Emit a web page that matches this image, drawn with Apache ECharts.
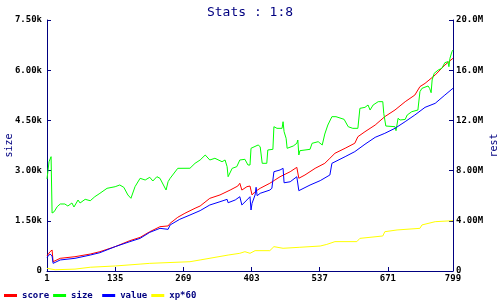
<!DOCTYPE html>
<html>
<head>
<meta charset="utf-8">
<script src="https://cdn.jsdelivr.net/npm/echarts@6/dist/echarts.min.js"></script>
<style>html,body{margin:0;padding:0;background:#fff}#c{width:500px;height:300px}</style>
</head>
<body>
<div id="c"></div>
<script>
// x ticks and axis tick labels
var xTicks = [1, 135, 269, 403, 537, 671, 799];
var leftTickLabels = ['0', '1.50k', '3.00k', '4.50k', '6.00k', '7.50k'];
var rightTickLabels = ['0', '4.00M', '8.00M', '12.0M', '16.0M', '20.0M'];
var seriesNames = ['score', 'size', 'value', 'xp*60'];

// size (left axis, units)
var sizeData = [
  [1,2749],[5,3266],[9,3416],[11,1733],[15,1770],[21,1921],[27,2002],[36,2002],[42,1942],[50,2032],
  [54,1912],[62,2121],[66,2032],[76,2142],[86,2100],[95,2220],[105,2321],[119,2471],[135,2519],[144,2570],
  [152,2500],[160,2271],[166,2172],[174,2519],[184,2770],[194,2719],[203,2800],[209,2689],[217,2818],[223,2770],
  [235,2420],[239,2669],[243,2769],[258,3068],[282,3070],[292,3218],[302,3317],[312,3466],[321,3317],[331,3368],
  [345,3266],[351,3317],[355,3117],[357,2818],[365,3068],[374,3117],[380,3317],[390,3337],[396,3167],[400,3167],
  [402,3666],[416,3765],[420,3714],[424,3218],[433,3218],[435,3616],[445,3636],[447,4312],[453,4263],[463,4263],
  [465,4461],[467,4162],[471,3964],[473,3666],[485,3735],[492,3815],[494,3914],[496,3466],[498,3595],[518,3636],
  [522,3815],[534,3864],[542,3765],[547,4093],[553,4362],[561,4611],[569,4611],[585,4532],[593,4312],[602,4263],
  [612,4263],[616,4860],[626,4890],[632,4960],[636,4810],[642,4960],[652,5060],[661,5060],[663,4700],[667,4332],
  [685,4312],[687,4193],[691,4562],[695,4512],[705,4530],[709,4661],[718,4760],[730,4810],[734,5358],[738,5458],
  [750,5528],[753,5458],[756,5328],[758,5707],[762,5906],[770,6006],[777,6056],[783,6225],[789,6255],[791,6105],
  [793,6354],[797,6554],[799,6603]
];
// score (right axis, millions)
var scoreData = [
  [1,1.20],[7,1.54],[11,1.67],[13,0.74],[27,1.01],[56,1.14],[86,1.35],[105,1.54],[135,1.94],[164,2.42],
  [184,2.68],[203,3.13],[223,3.53],[239,3.59],[243,3.80],[258,4.28],[272,4.60],[292,5.00],[302,5.18],[321,5.79],
  [341,6.06],[361,6.45],[376,6.77],[380,6.99],[384,6.45],[394,6.72],[400,6.77],[404,6.06],[410,6.32],[420,6.59],
  [439,6.99],[449,7.25],[459,7.51],[479,7.91],[492,8.26],[496,7.39],[508,7.65],[528,8.18],[547,8.58],[557,8.98],
  [567,9.38],[587,9.78],[606,10.18],[612,10.70],[626,11.10],[646,11.63],[665,12.30],[685,12.83],[705,13.49],[724,14.02],
  [734,14.69],[744,14.95],[764,15.62],[783,16.41],[799,16.95]
];
// value (right axis, millions)
var valueData = [
  [1,1.09],[7,1.35],[11,1.20],[13,0.61],[27,0.88],[56,1.01],[86,1.27],[105,1.46],[135,1.94],[164,2.34],
  [184,2.60],[203,3.08],[223,3.40],[239,3.32],[243,3.67],[262,4.12],[282,4.46],[302,4.81],[321,5.26],[341,5.52],
  [355,5.71],[357,5.44],[371,5.66],[380,5.92],[384,5.26],[394,5.66],[400,5.92],[402,4.86],[404,5.39],[410,6.06],
  [412,6.67],[414,6.00],[420,6.19],[439,6.45],[443,6.59],[447,7.91],[459,8.05],[465,8.18],[467,7.03],[479,7.11],
  [492,7.51],[496,6.40],[518,6.85],[538,7.20],[557,7.65],[561,8.58],[587,9.11],[606,9.51],[626,10.10],[646,10.65],
  [665,10.97],[685,11.37],[705,11.90],[724,12.43],[744,13.04],[764,13.36],[783,14.02],[799,14.56]
];
// xp*60 (right axis, millions)
var xpData = [
  [1,0.21],[17,0.10],[56,0.15],[86,0.30],[135,0.40],[184,0.55],[203,0.61],[282,0.74],[302,0.88],[357,1.27],
  [380,1.41],[390,1.54],[400,1.41],[410,1.62],[439,1.62],[447,1.94],[465,1.81],[498,1.89],[538,1.99],[551,2.12],
  [567,2.34],[610,2.34],[616,2.60],[661,2.79],[665,3.13],[689,3.27],[734,3.40],[738,3.67],[764,3.93],[799,4.01]
];

var navy = '#000080';
var mono = 'DejaVu Sans Mono';
var chart = echarts.init(document.getElementById('c'), null, {renderer: 'canvas'});
function mkSeries(name, data, color, yIdx) {
  return {
    name: name, type: 'line', data: data, yAxisIndex: yIdx,
    showSymbol: false, symbol: 'none',
    lineStyle: {color: color, width: 1}, itemStyle: {color: color},
    animation: false, emphasis: {disabled: true}
  };
}
chart.setOption({
  animation: false,
  backgroundColor: '#fff',
  title: {
    text: 'Stats : 1:8', left: 'center', top: 1,
    textStyle: {fontFamily: mono, fontSize: 13, fontWeight: 'normal', color: navy}
  },
  legend: {
    left: 4, top: 291, itemWidth: 13, itemHeight: 3, itemGap: 4, icon: 'rect', padding: 0,
    data: seriesNames,
    formatter: function (n) { return (n + '     ').slice(0, 5); },
    textStyle: {fontFamily: mono, fontSize: 9, fontWeight: 'bold', color: navy}
  },
  grid: {left: 47, right: 47, top: 20, bottom: 29, containLabel: false, outerBoundsMode: 'none'},
  xAxis: {
    type: 'value', min: 1, max: 799,
    axisLine: {show: true, lineStyle: {color: navy, width: 1}},
    axisTick: {show: true, inside: true, length: 4, customValues: xTicks, lineStyle: {color: navy}},
    axisLabel: {customValues: xTicks, margin: 3, fontFamily: mono, fontSize: 9, fontWeight: 'bold', color: '#000'},
    splitLine: {show: false}
  },
  yAxis: [
    {
      type: 'value', min: 0, max: 7500, interval: 1500, position: 'left',
      name: 'size', nameLocation: 'middle', nameGap: 33, nameRotate: 90, nameMoveOverlap: false,
      nameTextStyle: {fontFamily: mono, fontSize: 10, color: navy},
      axisLine: {show: true, lineStyle: {color: navy, width: 1}},
      axisTick: {show: true, inside: true, length: 4, lineStyle: {color: navy}},
      axisLabel: {margin: 5, fontFamily: mono, fontSize: 9, fontWeight: 'bold', color: '#000',
        formatter: function (v) { return leftTickLabels[Math.round(v / 1500)]; }},
      splitLine: {show: false}
    },
    {
      type: 'value', min: 0, max: 20, interval: 4, position: 'right',
      name: 'rest', nameLocation: 'middle', nameGap: 36, nameRotate: 90, nameMoveOverlap: false,
      nameTextStyle: {fontFamily: mono, fontSize: 10, color: navy},
      axisLine: {show: true, lineStyle: {color: navy, width: 1}},
      axisTick: {show: true, inside: true, length: 4, lineStyle: {color: navy}},
      axisLabel: {margin: 3, fontFamily: mono, fontSize: 9, fontWeight: 'bold', color: '#000',
        formatter: function (v) { return rightTickLabels[Math.round(v / 4)]; }},
      splitLine: {show: false}
    }
  ],
  series: [
    mkSeries(seriesNames[0], scoreData, '#ff0000', 1),
    mkSeries(seriesNames[1], sizeData, '#00ff00', 0),
    mkSeries(seriesNames[2], valueData, '#0000ff', 1),
    mkSeries(seriesNames[3], xpData, '#ffff00', 1)
  ]
});
</script>
</body>
</html>
